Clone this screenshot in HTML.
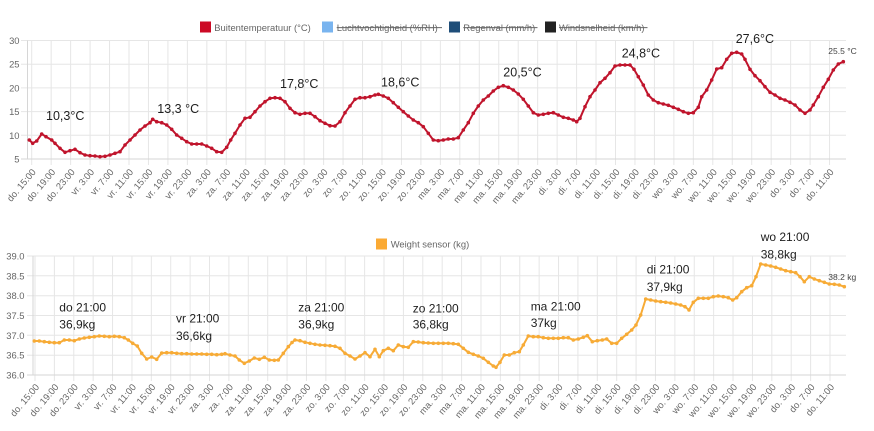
<!DOCTYPE html>
<html><head><meta charset="utf-8"><style>
html,body{margin:0;padding:0;background:#fff;}
svg{display:block;font-family:"Liberation Sans",Arial,sans-serif;}
.t{font-size:9.4px;fill:#666;}
.xl text{font-size:9.4px;fill:#666;text-anchor:end;dominant-baseline:central;}
.ann{font-size:12.5px;fill:#1e1e1e;}
.ann2{font-size:12px;fill:#1e1e1e;}
.sm{font-size:8.5px;fill:#444;}
</style></head><body>
<svg width="874" height="431" viewBox="0 0 874 431" xmlns="http://www.w3.org/2000/svg">
<defs>
<marker id="mr" viewBox="0 0 4 4" refX="2" refY="2" markerWidth="4" markerHeight="4" markerUnits="userSpaceOnUse"><circle cx="2" cy="2" r="1.8" fill="#c0142c"/></marker>
<marker id="mo" viewBox="0 0 4 4" refX="2" refY="2" markerWidth="4" markerHeight="4" markerUnits="userSpaceOnUse"><circle cx="2" cy="2" r="1.8" fill="#f7ab36"/></marker>
</defs>
<rect width="874" height="431" fill="#fff"/>

<!-- ===== TOP CHART ===== -->
<!-- legend -->
<rect x="200" y="21.5" width="11" height="11" fill="#cc0a25"/>
<text class="t" x="214.3" y="30.8">Buitentemperatuur (°C)</text>
<rect x="322" y="21.5" width="11" height="11" fill="#79b4ef"/>
<text class="t" x="336.7" y="30.8">Luchtvochtigheid (%RH)</text>
<line x1="336.7" y1="27.6" x2="442" y2="27.6" stroke="#666" stroke-width="1"/>
<rect x="449" y="21.5" width="11" height="11" fill="#1f4e79"/>
<text class="t" x="463.3" y="30.8">Regenval (mm/h)</text>
<line x1="463.3" y1="27.6" x2="537.5" y2="27.6" stroke="#666" stroke-width="1"/>
<rect x="545" y="21.5" width="11" height="11" fill="#222"/>
<text class="t" x="559" y="30.8">Windsnelheid (km/h)</text>
<line x1="559" y1="27.6" x2="647.5" y2="27.6" stroke="#666" stroke-width="1"/>

<!-- grid -->
<path d="M21 40.5H846M21 64.2H846M21 87.9H846M21 111.6H846M21 135.3H846" stroke="#e6e6e6" stroke-width="1" fill="none"/>
<path d="M31.7 40.5V165M51.16 40.5V165M70.62 40.5V165M90.08 40.5V165M109.54 40.5V165M129 40.5V165M148.46 40.5V165M167.92 40.5V165M187.38 40.5V165M206.84 40.5V165M226.3 40.5V165M245.76 40.5V165M265.22 40.5V165M284.68 40.5V165M304.14 40.5V165M323.6 40.5V165M343.06 40.5V165M362.52 40.5V165M381.98 40.5V165M401.44 40.5V165M420.9 40.5V165M440.36 40.5V165M459.82 40.5V165M479.28 40.5V165M498.74 40.5V165M518.2 40.5V165M537.66 40.5V165M557.12 40.5V165M576.58 40.5V165M596.04 40.5V165M615.5 40.5V165M634.96 40.5V165M654.42 40.5V165M673.88 40.5V165M693.34 40.5V165M712.8 40.5V165M732.26 40.5V165M751.72 40.5V165M771.18 40.5V165M790.64 40.5V165M810.1 40.5V165M829.56 40.5V165" stroke="#e6e6e6" stroke-width="1" fill="none"/>
<path d="M27.5 40.5V159M21 159H846" stroke="#d6d6d6" stroke-width="1" fill="none"/>

<!-- y labels -->
<g class="t" text-anchor="end" dominant-baseline="central">
<text x="19.5" y="40.5">30</text>
<text x="19.5" y="64.2">25</text>
<text x="19.5" y="87.9">20</text>
<text x="19.5" y="111.6">15</text>
<text x="19.5" y="135.3">10</text>
<text x="19.5" y="159">5</text>
</g>

<!-- x labels top -->
<g class="xl">
<text transform="translate(33.7,170) rotate(-50)">do. 15:00</text>
<text transform="translate(53.16,170) rotate(-50)">do. 19:00</text>
<text transform="translate(72.62,170) rotate(-50)">do. 23:00</text>
<text transform="translate(92.08,170) rotate(-50)">vr. 3:00</text>
<text transform="translate(111.54,170) rotate(-50)">vr. 7:00</text>
<text transform="translate(131,170) rotate(-50)">vr. 11:00</text>
<text transform="translate(150.46,170) rotate(-50)">vr. 15:00</text>
<text transform="translate(169.92,170) rotate(-50)">vr. 19:00</text>
<text transform="translate(189.38,170) rotate(-50)">vr. 23:00</text>
<text transform="translate(208.84,170) rotate(-50)">za. 3:00</text>
<text transform="translate(228.3,170) rotate(-50)">za. 7:00</text>
<text transform="translate(247.76,170) rotate(-50)">za. 11:00</text>
<text transform="translate(267.22,170) rotate(-50)">za. 15:00</text>
<text transform="translate(286.68,170) rotate(-50)">za. 19:00</text>
<text transform="translate(306.14,170) rotate(-50)">za. 23:00</text>
<text transform="translate(325.6,170) rotate(-50)">zo. 3:00</text>
<text transform="translate(345.06,170) rotate(-50)">zo. 7:00</text>
<text transform="translate(364.52,170) rotate(-50)">zo. 11:00</text>
<text transform="translate(383.98,170) rotate(-50)">zo. 15:00</text>
<text transform="translate(403.44,170) rotate(-50)">zo. 19:00</text>
<text transform="translate(422.9,170) rotate(-50)">zo. 23:00</text>
<text transform="translate(442.36,170) rotate(-50)">ma. 3:00</text>
<text transform="translate(461.82,170) rotate(-50)">ma. 7:00</text>
<text transform="translate(481.28,170) rotate(-50)">ma. 11:00</text>
<text transform="translate(500.74,170) rotate(-50)">ma. 15:00</text>
<text transform="translate(520.2,170) rotate(-50)">ma. 19:00</text>
<text transform="translate(539.66,170) rotate(-50)">ma. 23:00</text>
<text transform="translate(559.12,170) rotate(-50)">di. 3:00</text>
<text transform="translate(578.58,170) rotate(-50)">di. 7:00</text>
<text transform="translate(598.04,170) rotate(-50)">di. 11:00</text>
<text transform="translate(617.5,170) rotate(-50)">di. 15:00</text>
<text transform="translate(636.96,170) rotate(-50)">di. 19:00</text>
<text transform="translate(656.42,170) rotate(-50)">di. 23:00</text>
<text transform="translate(675.88,170) rotate(-50)">wo. 3:00</text>
<text transform="translate(695.34,170) rotate(-50)">wo. 7:00</text>
<text transform="translate(714.8,170) rotate(-50)">wo. 11:00</text>
<text transform="translate(734.26,170) rotate(-50)">wo. 15:00</text>
<text transform="translate(753.72,170) rotate(-50)">wo. 19:00</text>
<text transform="translate(773.18,170) rotate(-50)">wo. 23:00</text>
<text transform="translate(792.64,170) rotate(-50)">do. 3:00</text>
<text transform="translate(812.1,170) rotate(-50)">do. 7:00</text>
<text transform="translate(831.56,170) rotate(-50)">do. 11:00</text>
</g>

<!-- temperature series -->
<polyline fill="none" stroke="#c0142c" stroke-width="2" stroke-linejoin="round" marker-start="url(#mr)" marker-mid="url(#mr)" marker-end="url(#mr)" points="29.3,140 32.7,143.3 36.7,141 41.7,134 46,136.7 51.7,140 55,143.3 60,148.3 65,152.3 70,150.7 75,149.3 80,152.7 85,155 90,155.7 95,156 100,156.7 105,156.3 110,155 115,153.3 120,151.7 125,145 130,140 135,135 140,130 145,126 150,122.7 152.7,119.3 156.7,121.7 161.7,122.7 166.7,125 171.7,129.3 176.7,135 181.7,138.3 186.7,141.7 191.7,144 196.7,144 201.7,144 206.7,146 211.7,148.3 216.7,151.7 221.7,152.3 226.7,147.3 230.7,140 235,133.3 240,125 245,118.3 250,117.3 255,111.7 260,106 265,101.7 270,98.3 275,97.7 280,98.3 285,101.7 290,108.3 295,112.7 300,114.3 305,113.3 310,113.3 315,116.7 320,120.7 325,123.3 330,125.7 335,126 340,121.7 345,112.7 350,106 355,99.3 360,97.7 365,97.7 370,96.7 375,95 378.3,94.3 383.3,96 388.3,98.3 393.3,102.7 398.3,107.3 403.3,111.7 408.3,116 413.3,120 418.3,122.7 423.3,126.7 428.3,133.3 433.3,140 438.3,140.7 443.3,140 448.3,139 453.3,139 458.3,137.7 463.3,130 468.3,122.7 473.3,113.3 478.3,106 483.3,100 488.3,96 493.3,91 498.3,87.3 503.3,85.7 508.3,87.3 513.3,90 518.3,94 523.3,99.3 528.3,106 533.3,112.7 538.3,115 543.3,114.3 548.3,113.3 553.3,112.7 558.3,115 563.3,117.3 568.3,118.3 573.3,120 576.7,121.7 580,118.3 585,106.7 590,96.7 595,90 600,82.7 605,78.3 610,72.7 615,66 620,65 625,65 630,65 634,69.3 638.3,76.7 643.3,85 648.3,95 653.3,100 658.3,102.7 663.3,104 668.3,105.3 673.3,107.3 678.3,109.3 683.3,111.7 688.3,113.3 693.3,112.7 698.3,107.3 701.7,96.7 706.7,90 711.7,80 716.7,69 721.7,67.7 726.7,59.3 731.7,53.3 736.7,52.3 741.7,54 745,59.3 750,69.3 755,75.7 760,80.7 765,86.7 770,92.3 775,95 780,98.3 785,100 790,102.3 795,105 800,110 805,113.3 810,110 813.3,105 818.3,96.7 823.3,87.3 828.3,79.3 833.3,70 838.3,64 843.3,61.7"/>

<!-- annotations top -->
<text class="ann" x="46" y="120">10,3°C</text>
<text class="ann" x="157.3" y="113">13,3 °C</text>
<text class="ann" x="280" y="88">17,8°C</text>
<text class="ann" x="381" y="86.3">18,6°C</text>
<text class="ann" x="503.3" y="76.3">20,5°C</text>
<text class="ann" x="621.7" y="57.5">24,8°C</text>
<text class="ann" x="735.7" y="43">27,6°C</text>
<text class="sm" x="828.3" y="54">25.5 °C</text>

<!-- ===== BOTTOM CHART ===== -->
<rect x="376" y="238.5" width="11" height="11" fill="#fbaa34"/>
<text class="t" x="390.7" y="247.5">Weight sensor (kg)</text>

<path d="M27 256H846M27 275.8H846M27 295.7H846M27 315.5H846M27 335.3H846M27 355.2H846" stroke="#e6e6e6" stroke-width="1" fill="none"/>
<path d="M35 256V381M54.39 256V381M73.78 256V381M93.17 256V381M112.56 256V381M131.95 256V381M151.34 256V381M170.73 256V381M190.12 256V381M209.51 256V381M228.9 256V381M248.29 256V381M267.68 256V381M287.07 256V381M306.46 256V381M325.85 256V381M345.24 256V381M364.63 256V381M384.02 256V381M403.41 256V381M422.8 256V381M442.19 256V381M461.58 256V381M480.97 256V381M500.36 256V381M519.75 256V381M539.14 256V381M558.53 256V381M577.92 256V381M597.31 256V381M616.7 256V381M636.09 256V381M655.48 256V381M674.87 256V381M694.26 256V381M713.65 256V381M733.04 256V381M752.43 256V381M771.82 256V381M791.21 256V381M810.6 256V381M829.99 256V381" stroke="#e6e6e6" stroke-width="1" fill="none"/>
<path d="M33 256V375M27 375H846" stroke="#d6d6d6" stroke-width="1" fill="none"/>

<g class="t" text-anchor="end" dominant-baseline="central">
<text x="24.5" y="256">39.0</text>
<text x="24.5" y="275.8">38.5</text>
<text x="24.5" y="295.7">38.0</text>
<text x="24.5" y="315.5">37.5</text>
<text x="24.5" y="335.3">37.0</text>
<text x="24.5" y="355.2">36.5</text>
<text x="24.5" y="375">36.0</text>
</g>

<g class="xl">
<text transform="translate(37,385) rotate(-50)">do. 15:00</text>
<text transform="translate(56.39,385) rotate(-50)">do. 19:00</text>
<text transform="translate(75.78,385) rotate(-50)">do. 23:00</text>
<text transform="translate(95.17,385) rotate(-50)">vr. 3:00</text>
<text transform="translate(114.56,385) rotate(-50)">vr. 7:00</text>
<text transform="translate(133.95,385) rotate(-50)">vr. 11:00</text>
<text transform="translate(153.34,385) rotate(-50)">vr. 15:00</text>
<text transform="translate(172.73,385) rotate(-50)">vr. 19:00</text>
<text transform="translate(192.12,385) rotate(-50)">vr. 23:00</text>
<text transform="translate(211.51,385) rotate(-50)">za. 3:00</text>
<text transform="translate(230.9,385) rotate(-50)">za. 7:00</text>
<text transform="translate(250.29,385) rotate(-50)">za. 11:00</text>
<text transform="translate(269.68,385) rotate(-50)">za. 15:00</text>
<text transform="translate(289.07,385) rotate(-50)">za. 19:00</text>
<text transform="translate(308.46,385) rotate(-50)">za. 23:00</text>
<text transform="translate(327.85,385) rotate(-50)">zo. 3:00</text>
<text transform="translate(347.24,385) rotate(-50)">zo. 7:00</text>
<text transform="translate(366.63,385) rotate(-50)">zo. 11:00</text>
<text transform="translate(386.02,385) rotate(-50)">zo. 15:00</text>
<text transform="translate(405.41,385) rotate(-50)">zo. 19:00</text>
<text transform="translate(424.8,385) rotate(-50)">zo. 23:00</text>
<text transform="translate(444.19,385) rotate(-50)">ma. 3:00</text>
<text transform="translate(463.58,385) rotate(-50)">ma. 7:00</text>
<text transform="translate(482.97,385) rotate(-50)">ma. 11:00</text>
<text transform="translate(502.36,385) rotate(-50)">ma. 15:00</text>
<text transform="translate(521.75,385) rotate(-50)">ma. 19:00</text>
<text transform="translate(541.14,385) rotate(-50)">ma. 23:00</text>
<text transform="translate(560.53,385) rotate(-50)">di. 3:00</text>
<text transform="translate(579.92,385) rotate(-50)">di. 7:00</text>
<text transform="translate(599.31,385) rotate(-50)">di. 11:00</text>
<text transform="translate(618.7,385) rotate(-50)">di. 15:00</text>
<text transform="translate(638.09,385) rotate(-50)">di. 19:00</text>
<text transform="translate(657.48,385) rotate(-50)">di. 23:00</text>
<text transform="translate(676.87,385) rotate(-50)">wo. 3:00</text>
<text transform="translate(696.26,385) rotate(-50)">wo. 7:00</text>
<text transform="translate(715.65,385) rotate(-50)">wo. 11:00</text>
<text transform="translate(735.04,385) rotate(-50)">wo. 15:00</text>
<text transform="translate(754.43,385) rotate(-50)">wo. 19:00</text>
<text transform="translate(773.82,385) rotate(-50)">wo. 23:00</text>
<text transform="translate(793.21,385) rotate(-50)">do. 3:00</text>
<text transform="translate(812.6,385) rotate(-50)">do. 7:00</text>
<text transform="translate(831.99,385) rotate(-50)">do. 11:00</text>
</g>

<polyline fill="none" stroke="#f7ab36" stroke-width="2" stroke-linejoin="round" marker-start="url(#mo)" marker-mid="url(#mo)" marker-end="url(#mo)" points="34.3,341 39.3,341 44.3,341.7 49.3,342.3 54.3,342.7 59.3,342.7 64.3,340 69.3,340 74.3,340.7 79.3,339 84.3,338 89.3,337.3 94.3,336.7 99.3,336 104.3,336.3 109.3,336.7 114.3,336.3 119.3,336.7 124.3,337.7 128.3,340 132.7,343.3 137.3,346 141.7,353.3 146.7,359 151.7,357 156.7,359.3 161.7,353 166.7,352.7 171.7,352.7 176.7,353.3 181.7,353.7 186.7,353.7 191.7,354 196.7,354 201.7,354 206.7,354.3 211.7,354.3 216.7,354.7 221.7,354.3 225,353.7 230,355 235,356 239.3,360 244.3,363.3 249.3,361 254.3,358 259.3,359.3 264.3,357.3 269.3,360 274.3,360.3 278.3,360 283.3,353.3 288.3,346.7 292,342.5 295,340 300,340.7 305,342.3 310,343.3 315,344.3 320,345 325,345.3 330,345.7 335,346.3 340,348.3 345,353.3 350,356 355,359 360,356 365,352.7 370,356.7 375,349.3 379.3,356.7 383.3,350.7 388.3,348.3 393.3,350.7 398.3,345 403.3,346.7 408.3,347.3 413.3,341.7 418.3,342 423.3,342.7 428.3,343 433.3,343.3 438.3,343.3 443.3,343.3 448.3,343.3 453.3,343.7 458.3,344.3 463.3,348.3 468.3,352.3 473.3,354.3 478.3,356 483.3,358.3 488.3,362.3 493.3,366 496,367.3 500,362.3 504.3,355 509.3,355 514.3,352.7 519.3,351.7 523.3,345 528.3,336 533.3,336.7 538.3,336.7 543.3,337.7 548.3,338.3 553.3,338.3 558.3,338.3 563.3,337.7 568.3,337.7 573.3,340 578.3,339 583.3,337.3 587.3,335.7 592.3,341.7 597.3,340.7 602.3,340 606.7,339 611.7,343.3 616.7,343.3 621.7,338.3 626.7,334.3 631.7,330 636,325 640.7,315 645.7,299 650.7,300 655.7,301 660.7,301.7 665.7,302.3 670.7,303 675.7,304 680.7,305 685,306.7 689,310 693.3,302.3 698.3,298.3 703.3,298.3 708.3,298.3 713.3,296.7 718.3,296 723.3,296.7 728.3,297.7 732.7,300 736.7,297.7 741.7,291.7 746.7,287.7 751.7,285.7 756,276.7 760.7,264 765.7,265 770.7,266 775.7,267.3 780.7,269 785.7,270.7 790.7,271.7 795.7,272.7 800,276.7 804.3,281.7 809.3,276.7 814.3,279 819.3,280.7 824.3,282.3 829.3,284 834.3,284.3 839.3,285 844.3,286.7"/>

<!-- annotations bottom -->
<text class="ann2" x="59.3" y="311.7">do 21:00</text>
<text class="ann2" x="59.3" y="328.3">36,9kg</text>
<text class="ann2" x="176" y="322.7">vr 21:00</text>
<text class="ann2" x="176" y="340">36,6kg</text>
<text class="ann2" x="298.3" y="311.7">za 21:00</text>
<text class="ann2" x="298.3" y="328.3">36,9kg</text>
<text class="ann2" x="412.7" y="312.3">zo 21:00</text>
<text class="ann2" x="412.7" y="328.5">36,8kg</text>
<text class="ann2" x="530.7" y="310.3">ma 21:00</text>
<text class="ann2" x="530.7" y="327">37kg</text>
<text class="ann2" x="646.7" y="273.3">di 21:00</text>
<text class="ann2" x="646.7" y="291">37,9kg</text>
<text class="ann2" x="760.7" y="241">wo 21:00</text>
<text class="ann2" x="760.7" y="258.3">38,8kg</text>
<text class="sm" x="828.3" y="280">38.2 kg</text>
</svg>
</body></html>
